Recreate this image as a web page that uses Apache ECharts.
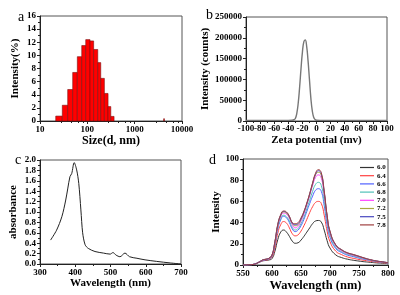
<!DOCTYPE html>
<html>
<head>
<meta charset="utf-8">
<script src="https://cdn.jsdelivr.net/npm/echarts@6/dist/echarts.min.js"></script>
<style>
  html, body { margin: 0; padding: 0; background: #fff; }
  #chart { width: 400px; height: 295px; }
</style>
</head>
<body>
<div id="chart"></div>
<script>
// a: DLS size histogram, bins [from, to] in nm and intensity %
const sizeFrom = [21.5, 29.6, 38.5, 49.1, 61.5, 76.2, 92.5, 114, 136, 166, 192, 229, 274, 313, 4100];
const sizeTo   = [29.6, 38.5, 49.1, 61.5, 76.2, 92.5, 114, 136, 166, 192, 229, 274, 313, 367, 4250];
const sizePct  = [0.75, 2.4, 4.8, 7.4, 9.8, 11.5, 12.4, 12.2, 10.9, 8.9, 6.5, 4.2, 2.2, 0.7, 0.35];

// b: zeta potential
const zeta = [-100, -80, -60, -40, -35, -32, -30, -28, -26, -24, -22, -20, -18, -16, -14, -12, -10, -8, -6, -4, -2, 0, 5, 20, 40, 60, 80, 100];
const zetaCounts = [1500, 1500, 1500, 1500, 1800, 3000, 6000, 18000, 42000, 80000, 125000, 165000, 190000, 195000, 180000, 145000, 100000, 55000, 25000, 9000, 3500, 1800, 1500, 1500, 1500, 1500, 1500, 1500];

// c: UV-vis absorbance
const absWl = [330, 347, 362, 373, 379, 385, 390, 397, 404, 410, 416, 421, 428, 437, 456, 480, 499, 507, 516, 527, 541, 554, 575, 598, 631, 670, 700];
const absVal = [0.46, 0.65, 0.91, 1.23, 1.46, 1.68, 1.74, 1.95, 1.81, 1.55, 1.04, 0.6, 0.37, 0.30, 0.24, 0.21, 0.19, 0.22, 0.17, 0.14, 0.21, 0.14, 0.11, 0.08, 0.05, 0.02, 0.0];

// d: fluorescence at different pH
const flWl = [550, 560, 570, 575, 580, 585, 590, 595, 600, 605, 610, 615, 620, 625, 630, 635, 640, 645, 650, 655, 660, 665, 670, 675, 680, 685, 690, 695, 700, 710, 720, 730, 740, 750, 760, 770, 780, 790, 800];
const pHNames = ['6.0', '6.4', '6.6', '6.8', '7.0', '7.2', '7.5', '7.8'];
const pHColors = ['#333333', '#ff4040', '#5060ff', '#50c0b8', '#ff40ff', '#a8a840', '#4848c0', '#a04040'];
const fl60 = [0, 0.2, 0.7, 1.8, 3, 4, 4.3, 4.8, 6, 13, 24, 31, 33, 31, 27, 22.5, 20.5, 21, 23.5, 27, 31, 35, 39, 41.5, 42, 40.5, 33, 23, 16, 9.5, 7, 5.5, 4.5, 3.7, 3, 2.5, 2, 1.7, 1.5];
const fl64 = [0, 0.2, 0.7, 1.9, 3.2, 4.3, 4.7, 5.4, 7.5, 16, 30, 38, 41, 39.5, 35, 29.5, 27.5, 28.5, 32, 37, 43, 49.5, 55, 59, 60, 58, 47, 32, 22, 13, 9.8, 7.6, 6.3, 5.2, 4.3, 3.5, 2.8, 2.2, 1.8];
const fl66 = [0, 0.2, 0.8, 2, 3.3, 4.6, 5, 5.8, 8.5, 19, 34, 42.5, 46, 44.5, 40, 34, 31.5, 33, 37, 43, 50.5, 58, 65, 70.5, 72, 69.5, 56, 38, 26, 15.5, 11.8, 9.3, 7.9, 6.5, 5.3, 4.3, 3.3, 2.6, 2];
const fl68 = [0, 0.2, 0.8, 2, 3.4, 4.7, 5.2, 6, 8.8, 20, 35, 43.5, 47, 45.5, 41.5, 35.5, 33, 34.5, 39, 45, 53, 61, 69.5, 76, 78, 75, 60, 41, 28, 16.5, 12.6, 10, 8.5, 7, 5.7, 4.5, 3.5, 2.7, 2];
const fl70 = [0, 0.2, 0.8, 2, 3.4, 4.8, 5.3, 6.2, 9, 21, 36.5, 45.5, 49, 48, 44, 38, 35, 36.5, 41.5, 48, 56.5, 65.5, 75, 82.5, 85, 82, 66, 45, 30, 18, 13.5, 10.8, 9.1, 7.6, 6, 4.7, 3.6, 2.8, 2.1];
const fl72 = [0, 0.2, 0.8, 2, 3.5, 5, 5.4, 6.4, 9.3, 21.5, 37.5, 46.5, 50, 49, 45, 39, 37, 38, 43, 49.5, 57.5, 66.5, 76.5, 85, 87.5, 84.5, 68, 46, 31, 18.5, 14, 11.2, 9.5, 7.9, 6.2, 4.8, 3.7, 2.9, 2.1];
const fl75 = [0, 0.2, 0.8, 2, 3.5, 5, 5.5, 6.5, 9.4, 22, 38, 47, 50.5, 49.5, 45.5, 39.5, 38, 39, 43.5, 50, 58, 67, 77, 85.5, 89, 86, 69, 46.5, 31.5, 18.8, 14.3, 11.4, 9.8, 8.1, 6.4, 4.9, 3.8, 3, 2.2];
const fl78 = [0, 0.2, 0.8, 2, 3.5, 5, 5.5, 6.5, 9.5, 22, 38.5, 47.5, 51, 50, 46, 40, 39, 40, 44.5, 50.5, 58.5, 67.5, 77.5, 86.5, 90, 87, 70, 47, 32, 19, 14.5, 11.6, 10, 8.3, 6.5, 5, 3.8, 3, 2.2];
const flSeries = [fl60, fl64, fl66, fl68, fl70, fl72, fl75, fl78];

const FONT = 'Liberation Serif';
const tickLabel = { color: '#000', fontFamily: FONT, fontWeight: 'bold', fontSize: 9, margin: 4, formatter: v => String(v) };
const nameStyle = { color: '#000', fontFamily: FONT, fontWeight: 'bold', fontSize: 11 };
const axLine = { show: true, onZero: false, lineStyle: { color: '#222', width: 1 } };
const axTick = { show: true, length: 3, lineStyle: { color: '#222' } };
const minorTick = { show: true, splitNumber: 2, length: 2, lineStyle: { color: '#222' } };

const grids = [
	{ left: 40, top: 16, width: 142, height: 105 },
	{ left: 246, top: 17, width: 141, height: 104 },
	{ left: 40, top: 160, width: 141, height: 104 },
	{ left: 243, top: 159, width: 145, height: 106 }
].map(g => Object.assign({ show: true, borderColor: '#555', borderWidth: 1, backgroundColor: 'transparent' }, g));

function xAx(idx, extra) {
	return Object.assign({
		gridIndex: idx, type: 'value', nameLocation: 'middle',
		axisLine: axLine, axisTick: axTick, minorTick: minorTick,
		axisLabel: tickLabel, splitLine: { show: false }, nameTextStyle: nameStyle
	}, extra);
}
function yAx(idx, extra) {
	return Object.assign({
		gridIndex: idx, type: 'value', nameLocation: 'middle',
		axisLine: axLine, axisTick: axTick, minorTick: minorTick,
		axisLabel: tickLabel, splitLine: { show: false }, nameTextStyle: nameStyle
	}, extra);
}

const option = {
	animation: false,
	backgroundColor: '#fff',
	title: [
		{ text: 'a', left: 13, top: 5 },
		{ text: 'b', left: 201, top: 3 },
		{ text: 'c', left: 10, top: 148 },
		{ text: 'd', left: 204, top: 148 }
	].map(t => Object.assign({ textStyle: { fontFamily: FONT, fontWeight: 'normal', fontSize: 14, color: '#000' } }, t)),
	grid: grids,
	legend: {
		left: 355, top: 159, orient: 'vertical',
		icon: 'rect', itemWidth: 14, itemHeight: 1.2, itemGap: 1.2,
		textStyle: { fontFamily: FONT, fontWeight: 'bold', fontSize: 7, color: '#000', padding: [0, 0, 0, -2], lineHeight: 7 },
		data: pHNames
	},
	xAxis: [
		xAx(0, { type: 'log', logBase: 10, min: 10, max: 10000, name: 'Size(d, nm)', nameGap: 12,
			nameTextStyle: Object.assign({}, nameStyle, { fontSize: 12 }),
			minorTick: { show: true, splitNumber: 5, length: 2, lineStyle: { color: '#222' } } }),
		xAx(1, { min: -100, max: 100, interval: 20, name: 'Zeta potential (mv)', nameGap: 14,
			axisLabel: Object.assign({}, tickLabel, { margin: 3 }) }),
		xAx(2, { min: 300, max: 700, interval: 100, name: 'Wavelength (nm)', nameGap: 14 }),
		xAx(3, { min: 550, max: 800, interval: 50, name: 'Wavelength (nm)', nameGap: 14,
			nameTextStyle: Object.assign({}, nameStyle, { fontSize: 12.5 }) })
	],
	yAxis: [
		yAx(0, { min: 0, max: 16, interval: 2, name: 'Intensity(%)', nameGap: 19 }),
		yAx(1, { min: 0, max: 250000, interval: 50000, name: 'Intensity (counts)', nameGap: 33 }),
		yAx(2, { min: 0, max: 2.0, interval: 0.2, name: 'absorbance', nameGap: 21,
			axisLabel: Object.assign({}, tickLabel, { formatter: v => v.toFixed(1) }) }),
		yAx(3, { min: 0, max: 100, interval: 20, name: 'Intensity', nameGap: 20 })
	],
	series: [
		{
			type: 'custom', xAxisIndex: 0, yAxisIndex: 0,
			encode: { x: [0, 1], y: 2 },
			data: sizeFrom.map((f, i) => [f, sizeTo[i], sizePct[i]]),
			renderItem: function (params, api) {
				const p0 = api.coord([api.value(0), api.value(2)]);
				const p1 = api.coord([api.value(1), 0]);
				return {
					type: 'rect',
					shape: { x: p0[0], y: p0[1], width: p1[0] - p0[0], height: p1[1] - p0[1] },
					style: { fill: '#ff0000', stroke: '#7a1010', lineWidth: 0.6 }
				};
			}
		},
		{
			type: 'line', xAxisIndex: 1, yAxisIndex: 1, smooth: true, symbol: 'none',
			lineStyle: { color: '#777', width: 1.4 },
			data: zeta.map((z, i) => [z, zetaCounts[i]])
		},
		{
			type: 'line', xAxisIndex: 2, yAxisIndex: 2, smooth: 0.3, symbol: 'none',
			lineStyle: { color: '#222', width: 1 },
			data: absWl.map((w, i) => [w, absVal[i]])
		}
	].concat(flSeries.map((arr, k) => ({
		name: pHNames[k], type: 'line', xAxisIndex: 3, yAxisIndex: 3, smooth: true, symbol: 'none',
		color: pHColors[k],
		lineStyle: { color: pHColors[k], width: 1 },
		data: flWl.map((w, i) => [w, arr[i]])
	})))
};

const chart = echarts.init(document.getElementById('chart'));
chart.setOption(option);
window.onresize = function () {
	chart.resize();
};
</script>
</body>
</html>
